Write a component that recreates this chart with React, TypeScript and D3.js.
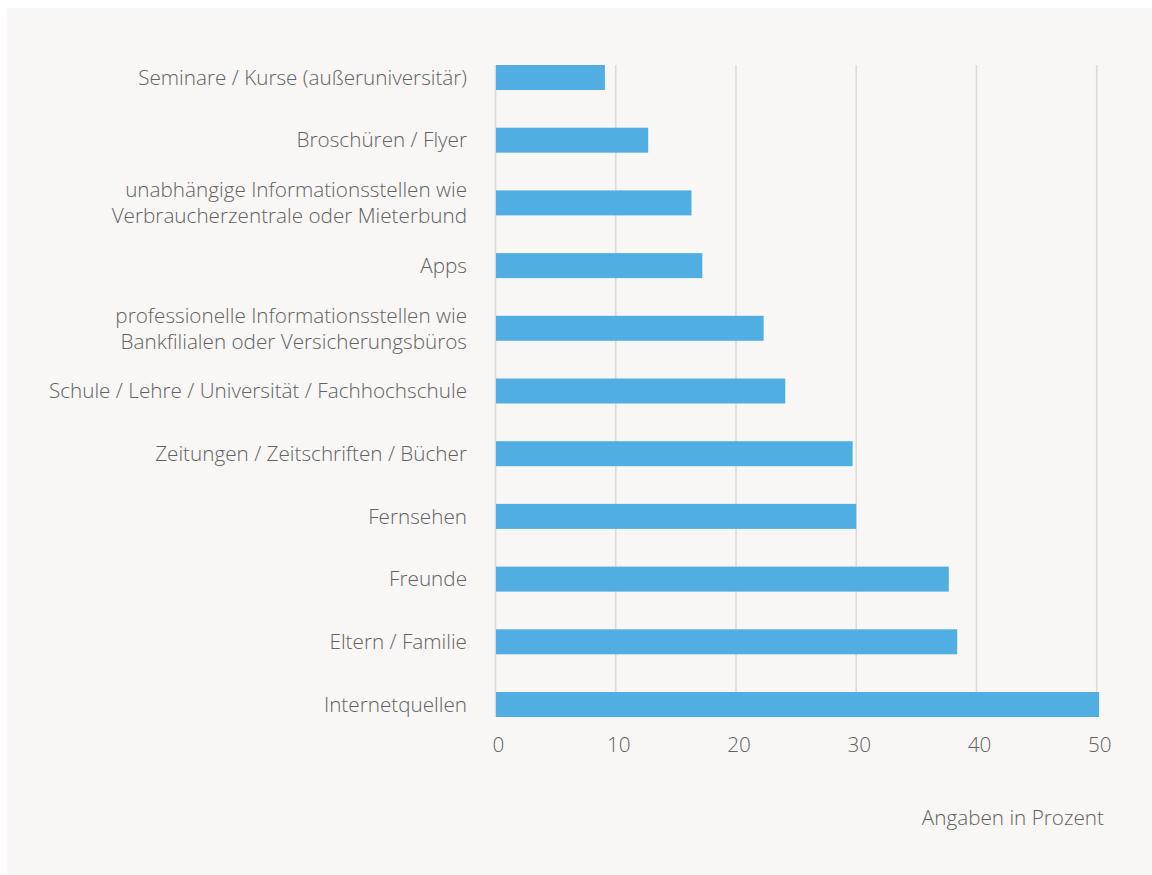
import React from "react";
import * as d3 from "d3";

const categories: string[][] = [
  ["Seminare / Kurse (außeruniversitär)"],
  ["Broschüren / Flyer"],
  ["unabhängige Informationsstellen wie", "Verbraucherzentrale oder Mieterbund"],
  ["Apps"],
  ["professionelle Informationsstellen wie", "Bankfilialen oder Versicherungsbüros"],
  ["Schule / Lehre / Universität / Fachhochschule"],
  ["Zeitungen / Zeitschriften / Bücher"],
  ["Fernsehen"],
  ["Freunde"],
  ["Eltern / Familie"],
  ["Internetquellen"],
];
const values: number[] = [9.1, 12.7, 16.3, 17.2, 22.3, 24.1, 29.7, 30.0, 37.7, 38.4, 50.2];
const xTicks: number[] = [0, 10, 20, 30, 40, 50];
const axisTitle = "Angaben in Prozent";

const W = 1152;
const H = 875;
const FONT = "'Open Sans', Lato, sans-serif";
const TEXT = "#626262";
const FS = 20.7;
const FW = 300;

export default function App() {
  const x = d3.scaleLinear().domain([0, 50]).range([495.5, 1096.7]);
  const keys = categories.map((_, i) => String(i));
  const bandH = 25;
  const y0 = 65;
  const y1 = 717;
  const y = d3
    .scalePoint<string>()
    .domain(keys)
    .range([y0 + bandH / 2, y1 - bandH / 2]);

  return (
    <svg
      width={W}
      height={H}
      style={{ position: "absolute", left: 0, top: 0, display: "block" }}
    >
      <rect x={0} y={0} width={W} height={H} fill="#ffffff" />
      <rect x={7} y={8} width={W - 7} height={H - 8} fill="#f8f7f5" />
      {xTicks.map((t) => (
        <line
          key={"g" + t}
          x1={x(t)}
          x2={x(t)}
          y1={y0}
          y2={y1}
          stroke="#dcdbd9"
          strokeWidth={1.6}
        />
      ))}
      {values.map((v, i) => (
        <rect
          key={"b" + i}
          x={x(0) + 0.5}
          y={(y(String(i)) as number) - bandH / 2}
          width={x(v) - x(0) - 0.5}
          height={bandH}
          fill="#50aee2"
        />
      ))}
      {categories.map((lines, i) => {
        const cy = y(String(i)) as number;
        const lh = 26;
        const start = cy - ((lines.length - 1) * lh) / 2;
        return (
          <text
            key={"l" + i}
            textAnchor="end"
            fontFamily={FONT}
            fontSize={FS}
            fontWeight={FW}
            fill={TEXT}
          >
            {lines.map((ln, j) => (
              <tspan key={j} x={467} y={start + j * lh} dy="0.35em">
                {ln}
              </tspan>
            ))}
          </text>
        );
      })}
      {xTicks.map((t) => (
        <text
          key={"t" + t}
          x={x(t) + 3}
          y={745}
          dy="0.35em"
          textAnchor="middle"
          fontFamily={FONT}
          fontSize={FS}
          fontWeight={FW}
          fill={TEXT}
        >
          {t}
        </text>
      ))}
      <text
        x={1104}
        y={818}
        dy="0.35em"
        textAnchor="end"
        fontFamily={FONT}
        fontSize={FS}
        fontWeight={FW}
        fill={TEXT}
      >
        {axisTitle}
      </text>
    </svg>
  );
}
